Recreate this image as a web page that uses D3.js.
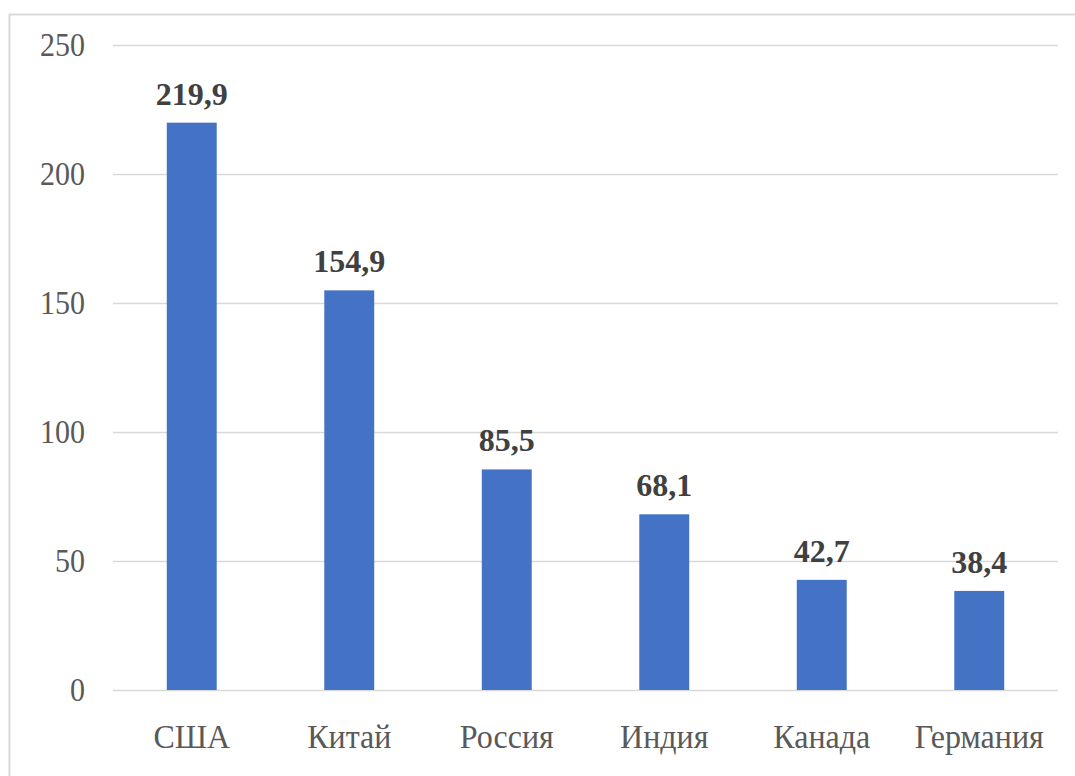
<!DOCTYPE html>
<html>
<head>
<meta charset="utf-8">
<script src="https://cdn.jsdelivr.net/npm/d3@7"></script>
<style>
  html, body { margin: 0; padding: 0; background: #fff; }
  svg { display: block; }
</style>
</head>
<body>
<svg id="chart" width="1075" height="776"></svg>
<script>
// Countries and their values
const categories = ["США", "Китай", "Россия", "Индия", "Канада", "Германия"];
const values = [219.9, 154.9, 85.5, 68.1, 42.7, 38.4];
const yTicks = [0, 50, 100, 150, 200, 250];

const svg = d3.select("#chart");
const W = 1075, H = 776;
const margin = { left: 113, right: 17, top: 45, bottom: 86 };
const serif = "'Liberation Serif', 'Times New Roman', serif";

// Outer chart frame
svg.append("rect")
  .attr("x", 9.5).attr("y", 14.5)
  .attr("width", W + 20).attr("height", H + 20)
  .attr("fill", "none").attr("stroke", "#d9d9d9").attr("stroke-width", 2);

const x = d3.scaleBand()
  .domain(categories)
  .range([margin.left, W - margin.right])
  .paddingInner(0.683)
  .paddingOuter(0.3415);

const y = d3.scaleLinear()
  .domain([0, 250])
  .range([H - margin.bottom, margin.top]);

const fmt = v => String(v).replace(".", ",");

// Horizontal gridlines
svg.append("g").selectAll("line")
  .data(yTicks)
  .join("line")
  .attr("x1", margin.left).attr("x2", W - margin.right)
  .attr("y1", d => Math.round(y(d)) + 0.5).attr("y2", d => Math.round(y(d)) + 0.5)
  .attr("stroke", "#d9d9d9").attr("stroke-width", 1.5);

// Y axis labels (slightly tall glyphs)
const yAxis = d3.axisLeft(y).tickValues(yTicks).tickSize(0).tickPadding(0);
const gy = svg.append("g").attr("transform", "translate(85,0)").call(yAxis);
gy.select(".domain").remove();
gy.selectAll("text")
  .attr("transform", "scale(1,1.12)")
  .style("font-family", serif)
  .style("font-size", "30px").attr("fill", "#595959");

// Bars
svg.append("g").selectAll("rect")
  .data(values)
  .join("rect")
  .attr("x", (d, i) => x(categories[i]))
  .attr("width", x.bandwidth())
  .attr("y", d => y(d))
  .attr("height", d => y(0) - y(d))
  .attr("fill", "#4472c4");

// Value labels
svg.append("g").selectAll("text")
  .data(values)
  .join("text")
  .attr("x", (d, i) => x(categories[i]) + x.bandwidth() / 2)
  .attr("y", d => y(d) - 18)
  .attr("text-anchor", "middle")
  .style("font-family", serif)
  .style("font-weight", "bold")
  .style("font-size", "32px").attr("fill", "#404040")
  .text(d => fmt(d));

// Category axis labels
const catStretch = 1.08;
const xAxis = d3.axisBottom(x).tickSize(0).tickPadding(0);
const gx = svg.append("g").attr("transform", `translate(0,${H - margin.bottom})`).call(xAxis);
gx.select(".domain").remove();
gx.selectAll("text")
  .attr("dy", null)
  .attr("y", 58 / catStretch)
  .attr("transform", `scale(1,${catStretch})`)
  .style("font-family", serif)
  .style("font-size", "32px").attr("fill", "#595959");
</script>
</body>
</html>
